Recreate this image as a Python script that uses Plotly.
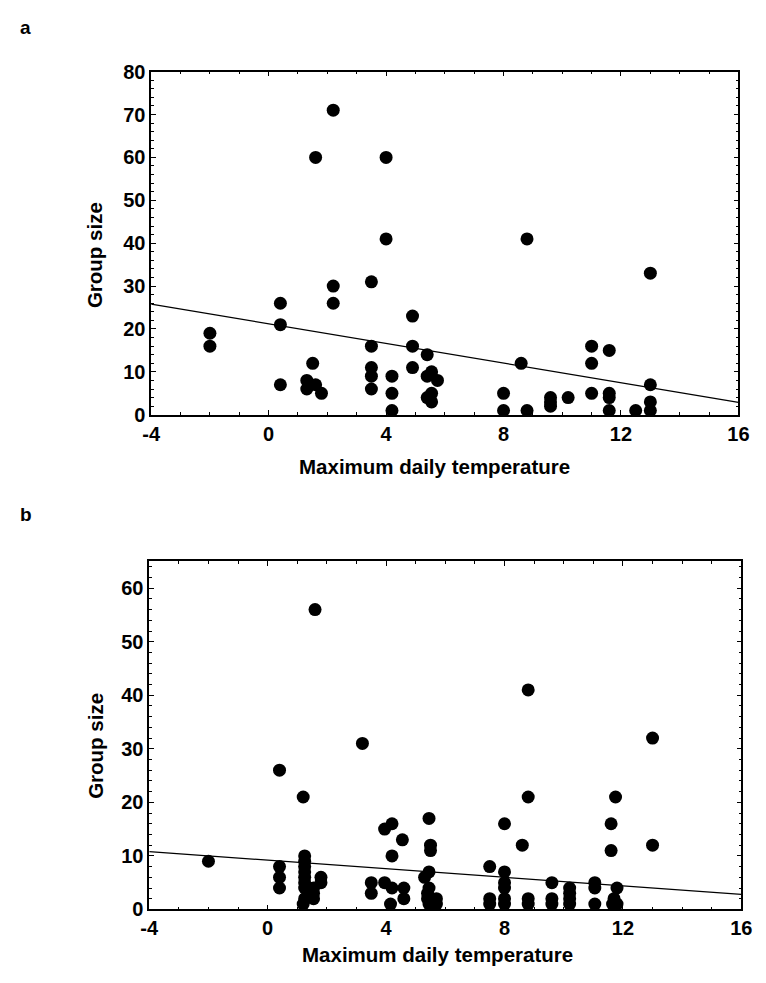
import plotly.graph_objects as go

W, H = 766, 983

# ---------------- data: panel a ----------------
a_x = [-2, -2,
       0.4, 0.4, 0.4,
       1.3, 1.3, 1.5, 1.6, 1.6, 1.8,
       2.2, 2.2, 2.2,
       3.5, 3.5, 3.5, 3.5, 3.5,
       4.0, 4.0, 4.2, 4.2, 4.2,
       4.9, 4.9, 4.9,
       5.4, 5.4, 5.4, 5.55, 5.55, 5.55, 5.75,
       8.0, 8.0, 8.6, 8.8, 8.8,
       9.6, 9.6, 9.6, 10.2,
       11.0, 11.0, 11.0,
       11.6, 11.6, 11.6, 11.6,
       12.5,
       13.0, 13.0, 13.0, 13.0]
a_y = [19, 16,
       26, 21, 7,
       8, 6, 12, 60, 7, 5,
       71, 30, 26,
       31, 16, 11, 9, 6,
       60, 41, 9, 5, 1,
       23, 16, 11,
       14, 9, 4, 10, 5, 3, 8,
       5, 1, 12, 41, 1,
       4, 3, 2, 4,
       16, 12, 5,
       15, 5, 4, 1,
       1,
       33, 7, 3, 1]

# ---------------- data: panel b ----------------
b_x = [-2,
       0.4, 0.4, 0.4, 0.4,
       1.2, 1.25, 1.25, 1.25, 1.25, 1.25, 1.25, 1.25, 1.25, 1.2,
       1.55, 1.55, 1.55, 1.6, 1.8, 1.8,
       3.2, 3.5, 3.5,
       3.95, 4.2, 4.2, 3.95, 4.2, 4.15,
       4.55, 4.6, 4.6,
       5.45, 5.5, 5.5, 5.45, 5.3, 5.45, 5.4, 5.4, 5.45, 5.7, 5.7,
       7.5, 7.5, 7.5,
       8.0, 8.0, 8.0, 8.0, 8.0, 8.0,
       8.6, 8.8, 8.8, 8.8, 8.8,
       9.6, 9.6, 9.6,
       10.2, 10.2, 10.2, 10.2,
       11.05, 11.05, 11.05,
       11.6, 11.6, 11.75, 11.8, 11.7, 11.8, 11.65,
       13.0, 13.0]
b_y = [9,
       26, 8, 6, 4,
       21, 10, 9, 8, 7, 6, 5, 4, 2, 1,
       4, 3, 2, 56, 6, 5,
       31, 5, 3,
       15, 16, 10, 5, 4, 1,
       13, 4, 2,
       17, 12, 11, 7, 6, 4, 3, 2, 1, 1, 2,
       8, 2, 1,
       16, 7, 5, 4, 2, 1,
       12, 41, 21, 2, 1,
       5, 2, 1,
       4, 3, 2, 1,
       5, 4, 1,
       16, 11, 21, 4, 2, 1, 1,
       32, 12]

# fitted regression lines: (intercept, slope)
a_fit = (21.2, -1.145)
b_fit = (9.2, -0.40)

x_range = [-4, 16]
x_tickvals = [-4, 0, 4, 8, 12, 16]
x_ticktext = ["-4", "0", "4", "8", "12", "16"]
a_yrange = [0, 80]
b_yrange = [0, 65]

FONT = "Liberation Sans, Arial, sans-serif"


def px_x(p):
    return p / W


def px_y(p):
    return 1 - p / H


fig = go.Figure()

for xs, ys, fit, xa, ya in [(a_x, a_y, a_fit, "x", "y"), (b_x, b_y, b_fit, "x2", "y2")]:
    fig.add_trace(go.Scatter(
        x=xs, y=ys, mode="markers", xaxis=xa, yaxis=ya,
        marker=dict(size=13, color="black", line=dict(width=0)),
        cliponaxis=False, showlegend=False))
    fig.add_trace(go.Scatter(
        x=x_range, y=[fit[0] + fit[1] * v for v in x_range], mode="lines",
        xaxis=xa, yaxis=ya, line=dict(color="black", width=1.2),
        showlegend=False))


def common(**kw):
    d = dict(
        ticks="inside", ticklen=5, tickwidth=1.2, tickcolor="black",
        showline=True, linecolor="black", linewidth=1.5, mirror="ticks",
        showgrid=False, zeroline=False,
        tickfont=dict(family=FONT, size=20, color="black", weight="bold"),
    )
    d.update(kw)
    return d


def xaxis_def(domain, anchor):
    return common(domain=domain, anchor=anchor, range=x_range,
                  tickmode="array", tickvals=x_tickvals, ticktext=x_ticktext,
                  minor=dict(tickmode="linear", tick0=-4, dtick=1, ticks="inside",
                             ticklen=3, tickcolor="black", showgrid=False))


def yaxis_def(domain, anchor, rng):
    return common(domain=domain, anchor=anchor, range=rng,
                  tick0=0, dtick=10,
                  minor=dict(tick0=0, dtick=2, ticks="inside", ticklen=3,
                             tickcolor="black", showgrid=False))


fig.update_layout(
    width=W, height=H,
    margin=dict(l=0, r=0, t=0, b=0),
    paper_bgcolor="white", plot_bgcolor="white",
    showlegend=False,
    xaxis=xaxis_def([px_x(146), px_x(749)], "y"),
    yaxis=yaxis_def([px_y(413), px_y(62)], "x", a_yrange),
    xaxis2=xaxis_def([px_x(144), px_x(752)], "y2"),
    yaxis2=yaxis_def([px_y(919), px_y(563)], "x2", b_yrange),
)

title_font = dict(family=FONT, size=20.5, color="black", weight="bold")
ann = [
    dict(text="a", x=px_x(17), y=px_y(17), font=dict(family=FONT, size=19, color="black", weight="bold")),
    dict(text="b", x=px_x(17), y=px_y(515), font=dict(family=FONT, size=19, color="black", weight="bold")),
    dict(text="Group size", x=px_x(88), y=px_y(250), textangle=-90, font=title_font),
    dict(text="Group size", x=px_x(88), y=px_y(752), textangle=-90, font=title_font),
    dict(text="Maximum daily temperature", x=px_x(437), y=px_y(466), font=title_font),
    dict(text="Maximum daily temperature", x=px_x(440), y=px_y(965), font=title_font),
]
for a in ann:
    a.update(xref="paper", yref="paper", showarrow=False, xanchor="center", yanchor="middle")
fig.update_layout(annotations=ann)

fig.write_html("out.html")
